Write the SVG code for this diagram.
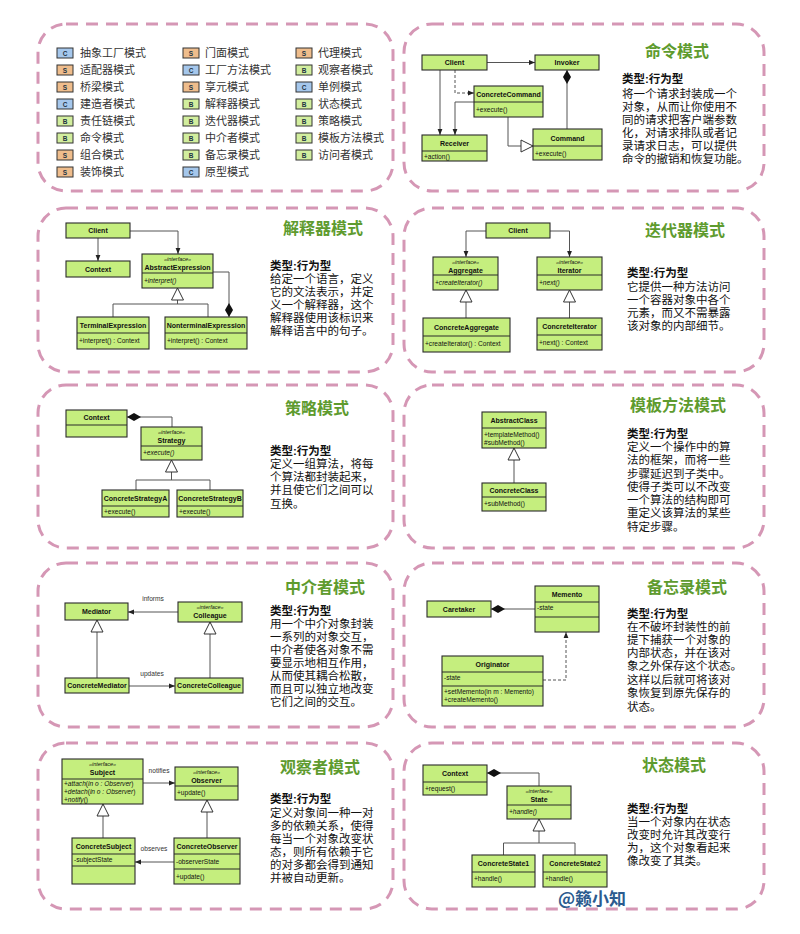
<svg xmlns="http://www.w3.org/2000/svg" width="800" height="934" viewBox="0 0 800 934">
<style>
.panel{fill:#fff;stroke:#d597b5;stroke-width:3;stroke-dasharray:12 8;}
.box{fill:#c5ee7e;stroke:#2a2a2a;stroke-width:1.1;}
.sep{stroke:#2a2a2a;stroke-width:1;fill:none;}
.ln{stroke:#555;stroke-width:1;fill:none;}
.dash{stroke:#555;stroke-width:1;fill:none;stroke-dasharray:3 2;}
.cn{font-family:'Liberation Sans',Arial,sans-serif;font-size:7px;font-weight:bold;text-anchor:middle;fill:#111;}
.st{font-family:'Liberation Sans',Arial,sans-serif;font-size:5.5px;font-style:italic;text-anchor:middle;fill:#111;}
.mt{font-family:'Liberation Sans',Arial,sans-serif;font-size:6.6px;fill:#111;}
.it{font-style:italic;}
.lb{font-family:'Liberation Sans',Arial,sans-serif;font-size:6.6px;fill:#333;text-anchor:middle;}
.title{font-family:'Noto Sans CJK SC','Noto Sans',sans-serif;font-size:16px;font-weight:bold;fill:#5e9b2e;}
.body{font-family:'Liberation Sans','Noto Sans CJK SC',sans-serif;font-size:11.5px;fill:#111;}
.hd{font-weight:bold;}
.lg{font-family:'Noto Sans CJK SC','Noto Sans',sans-serif;font-size:11px;fill:#333;}
.ic{stroke:#333;stroke-width:1;}
.icC{fill:#a5c7ec;}
.icS{fill:#efbd8c;}
.icB{fill:#d2ee9e;}
.il{font-family:'Liberation Sans',Arial,sans-serif;font-size:6.5px;font-weight:bold;text-anchor:middle;fill:#234;}
</style>
<defs>
<marker id="arr" viewBox="0 0 10 10" refX="10" refY="5" markerWidth="6" markerHeight="6" markerUnits="userSpaceOnUse" orient="auto"><path d="M0,1 L10,5 L0,9 z" fill="#222"/></marker>
<marker id="tri" viewBox="-1 -1 14 14" refX="12" refY="6" markerWidth="14" markerHeight="14" markerUnits="userSpaceOnUse" orient="auto"><path d="M0,0 L12,6 L0,12 z" fill="#fff" stroke="#333" stroke-width="1"/></marker>
<marker id="dia" viewBox="0 0 14 8" refX="0" refY="4" markerWidth="14" markerHeight="8" markerUnits="userSpaceOnUse" orient="auto"><path d="M0,4 L7,0 L14,4 L7,8 z" fill="#111"/></marker>
</defs>
<rect width="800" height="934" fill="#fff"/>

<!-- panel frames -->
<g id="frames">
<rect class="panel" x="38" y="24" width="355" height="167" rx="28"/>
<rect class="panel" x="404" y="24" width="360" height="167" rx="28"/>
<rect class="panel" x="38" y="208" width="355" height="164" rx="28"/>
<rect class="panel" x="404" y="208" width="360" height="164" rx="28"/>
<rect class="panel" x="38" y="385" width="355" height="163" rx="28"/>
<rect class="panel" x="404" y="385" width="360" height="163" rx="28"/>
<rect class="panel" x="38" y="563" width="355" height="164" rx="28"/>
<rect class="panel" x="404" y="563" width="360" height="164" rx="28"/>
<rect class="panel" x="38" y="743" width="355" height="166" rx="28"/>
<rect class="panel" x="404" y="743" width="360" height="166" rx="28"/>
</g>

<!-- legend -->
<g id="legend">
<g id="lg-c1">
<rect class="ic icC" x="57" y="48" width="16" height="10"/><text class="il" x="65" y="55.5">C</text><text class="lg" x="80" y="57">抽象工厂模式</text>
<rect class="ic icS" x="57" y="65" width="16" height="10"/><text class="il" x="65" y="72.5">S</text><text class="lg" x="80" y="74">适配器模式</text>
<rect class="ic icS" x="57" y="82" width="16" height="10"/><text class="il" x="65" y="89.5">S</text><text class="lg" x="80" y="91">桥梁模式</text>
<rect class="ic icC" x="57" y="99" width="16" height="10"/><text class="il" x="65" y="106.5">C</text><text class="lg" x="80" y="108">建造者模式</text>
<rect class="ic icB" x="57" y="116" width="16" height="10"/><text class="il" x="65" y="123.5">B</text><text class="lg" x="80" y="125">责任链模式</text>
<rect class="ic icB" x="57" y="133" width="16" height="10"/><text class="il" x="65" y="140.5">B</text><text class="lg" x="80" y="142">命令模式</text>
<rect class="ic icS" x="57" y="150" width="16" height="10"/><text class="il" x="65" y="157.5">S</text><text class="lg" x="80" y="159">组合模式</text>
<rect class="ic icS" x="57" y="167" width="16" height="10"/><text class="il" x="65" y="174.5">S</text><text class="lg" x="80" y="176">装饰模式</text>
</g>
<g id="lg-c2">
<rect class="ic icS" x="183" y="48" width="16" height="10"/><text class="il" x="191" y="55.5">S</text><text class="lg" x="205" y="57">门面模式</text>
<rect class="ic icC" x="183" y="65" width="16" height="10"/><text class="il" x="191" y="72.5">C</text><text class="lg" x="205" y="74">工厂方法模式</text>
<rect class="ic icS" x="183" y="82" width="16" height="10"/><text class="il" x="191" y="89.5">S</text><text class="lg" x="205" y="91">享元模式</text>
<rect class="ic icB" x="183" y="99" width="16" height="10"/><text class="il" x="191" y="106.5">B</text><text class="lg" x="205" y="108">解释器模式</text>
<rect class="ic icB" x="183" y="116" width="16" height="10"/><text class="il" x="191" y="123.5">B</text><text class="lg" x="205" y="125">迭代器模式</text>
<rect class="ic icB" x="183" y="133" width="16" height="10"/><text class="il" x="191" y="140.5">B</text><text class="lg" x="205" y="142">中介者模式</text>
<rect class="ic icB" x="183" y="150" width="16" height="10"/><text class="il" x="191" y="157.5">B</text><text class="lg" x="205" y="159">备忘录模式</text>
<rect class="ic icC" x="183" y="167" width="16" height="10"/><text class="il" x="191" y="174.5">C</text><text class="lg" x="205" y="176">原型模式</text>
</g>
<g id="lg-c3">
<rect class="ic icS" x="296" y="48" width="16" height="10"/><text class="il" x="304" y="55.5">S</text><text class="lg" x="318" y="57">代理模式</text>
<rect class="ic icB" x="296" y="65" width="16" height="10"/><text class="il" x="304" y="72.5">B</text><text class="lg" x="318" y="74">观察者模式</text>
<rect class="ic icC" x="296" y="82" width="16" height="10"/><text class="il" x="304" y="89.5">C</text><text class="lg" x="318" y="91">单例模式</text>
<rect class="ic icB" x="296" y="99" width="16" height="10"/><text class="il" x="304" y="106.5">B</text><text class="lg" x="318" y="108">状态模式</text>
<rect class="ic icB" x="296" y="116" width="16" height="10"/><text class="il" x="304" y="123.5">B</text><text class="lg" x="318" y="125">策略模式</text>
<rect class="ic icB" x="296" y="133" width="16" height="10"/><text class="il" x="304" y="140.5">B</text><text class="lg" x="318" y="142">模板方法模式</text>
<rect class="ic icB" x="296" y="150" width="16" height="10"/><text class="il" x="304" y="157.5">B</text><text class="lg" x="318" y="159">访问者模式</text>
</g>
</g>

<!-- panel texts -->
<g id="texts">
<text class="title" x="645" y="57">命令模式</text>
<text class="body" x="622"><tspan class="hd" x="622" y="83">类型:行为型</tspan><tspan x="622" y="98">将一个请求封装成一个</tspan><tspan x="622" y="111">对象，从而让你使用不</tspan><tspan x="622" y="124">同的请求把客户端参数</tspan><tspan x="622" y="137">化，对请求排队或者记</tspan><tspan x="622" y="150">录请求日志，可以提供</tspan><tspan x="622" y="163">命令的撤销和恢复功能。</tspan></text>

<text class="title" x="283" y="234">解释器模式</text>
<text class="body" x="270"><tspan class="hd" x="270" y="270">类型:行为型</tspan><tspan x="270" y="283">给定一个语言，定义</tspan><tspan x="270" y="296">它的文法表示，并定</tspan><tspan x="270" y="309">义一个解释器，这个</tspan><tspan x="270" y="322">解释器使用该标识来</tspan><tspan x="270" y="335">解释语言中的句子。</tspan></text>

<text class="title" x="645" y="236">迭代器模式</text>
<text class="body" x="627"><tspan class="hd" x="627" y="277">类型:行为型</tspan><tspan x="627" y="291">它提供一种方法访问</tspan><tspan x="627" y="304">一个容器对象中各个</tspan><tspan x="627" y="317">元素，而又不需暴露</tspan><tspan x="627" y="330">该对象的内部细节。</tspan></text>

<text class="title" x="285" y="414">策略模式</text>
<text class="body" x="270"><tspan class="hd" x="270" y="455">类型:行为型</tspan><tspan x="270" y="468">定义一组算法，将每</tspan><tspan x="270" y="481">个算法都封装起来，</tspan><tspan x="270" y="494">并且使它们之间可以</tspan><tspan x="270" y="508">互换。</tspan></text>

<text class="title" x="630" y="411">模板方法模式</text>
<text class="body" x="627"><tspan class="hd" x="627" y="438">类型:行为型</tspan><tspan x="627" y="451">定义一个操作中的算</tspan><tspan x="627" y="464">法的框架，而将一些</tspan><tspan x="627" y="478">步骤延迟到子类中。</tspan><tspan x="627" y="491">使得子类可以不改变</tspan><tspan x="627" y="504">一个算法的结构即可</tspan><tspan x="627" y="517">重定义该算法的某些</tspan><tspan x="627" y="531">特定步骤。</tspan></text>

<text class="title" x="285" y="593">中介者模式</text>
<text class="body" x="270"><tspan class="hd" x="270" y="615">类型:行为型</tspan><tspan x="270" y="628">用一个中介对象封装</tspan><tspan x="270" y="641">一系列的对象交互，</tspan><tspan x="270" y="654">中介者使各对象不需</tspan><tspan x="270" y="667">要显示地相互作用，</tspan><tspan x="270" y="680">从而使其耦合松散，</tspan><tspan x="270" y="693">而且可以独立地改变</tspan><tspan x="270" y="706">它们之间的交互。</tspan></text>

<text class="title" x="647" y="593">备忘录模式</text>
<text class="body" x="627"><tspan class="hd" x="627" y="618">类型:行为型</tspan><tspan x="627" y="631">在不破坏封装性的前</tspan><tspan x="627" y="644">提下捕获一个对象的</tspan><tspan x="627" y="657">内部状态，并在该对</tspan><tspan x="627" y="670">象之外保存这个状态。</tspan><tspan x="627" y="684">这样以后就可将该对</tspan><tspan x="627" y="697">象恢复到原先保存的</tspan><tspan x="627" y="711">状态。</tspan></text>

<text class="title" x="280" y="773">观察者模式</text>
<text class="body" x="270"><tspan class="hd" x="270" y="803">类型:行为型</tspan><tspan x="270" y="817">定义对象间一种一对</tspan><tspan x="270" y="830">多的依赖关系，使得</tspan><tspan x="270" y="843">每当一个对象改变状</tspan><tspan x="270" y="856">态，则所有依赖于它</tspan><tspan x="270" y="869">的对多都会得到通知</tspan><tspan x="270" y="882">并被自动更新。</tspan></text>

<text class="title" x="642" y="771">状态模式</text>
<text class="body" x="627"><tspan class="hd" x="627" y="813">类型:行为型</tspan><tspan x="627" y="826">当一个对象内在状态</tspan><tspan x="627" y="839">改变时允许其改变行</tspan><tspan x="627" y="852">为，这个对象看起来</tspan><tspan x="627" y="865">像改变了其类。</tspan></text>

<text x="592" y="905" font-family="'Noto Sans CJK SC','Noto Sans',sans-serif" font-size="17" font-weight="bold" fill="#2c5b8f" text-anchor="middle">@籁小知</text>
</g>

<!-- connectors -->
<g id="connectors">
<!-- command -->
<path class="ln" d="M487,62.5 H535" marker-end="url(#arr)"/>
<path class="ln" d="M440,70 V135" marker-end="url(#arr)"/>
<path class="dash" d="M455,70 V93 H474" marker-end="url(#arr)"/>
<path class="ln" d="M474,102 H455 V135" marker-end="url(#arr)"/>
<path class="ln" d="M508,117 V146 H533" marker-end="url(#tri)"/>
<path class="ln" d="M567,70 V129" marker-start="url(#dia)"/>
<!-- interpreter -->
<path class="ln" d="M98,238 V261" marker-end="url(#arr)"/>
<path class="ln" d="M130,231 H178 V254" marker-end="url(#arr)"/>
<path class="ln" d="M113,317 V304 H208 V317"/>
<path class="ln" d="M177.5,304 V288" marker-end="url(#tri)"/>
<path class="ln" d="M229,317 V272 H213" marker-start="url(#dia)"/>
<!-- iterator -->
<path class="ln" d="M486,231 H466 V257" marker-end="url(#arr)"/>
<path class="ln" d="M550,231 H569.5 V257" marker-end="url(#arr)"/>
<path class="ln" d="M466,318 V290" marker-end="url(#tri)"/>
<path class="ln" d="M569.5,318 V290" marker-end="url(#tri)"/>
<!-- strategy -->
<path class="ln" d="M127,417 H172 V427" marker-start="url(#dia)"/>
<path class="ln" d="M136,490 V480 H210 V490"/>
<path class="ln" d="M171.5,480 V460" marker-end="url(#tri)"/>
<!-- template -->
<path class="ln" d="M514,483 V448" marker-end="url(#tri)"/>
<!-- mediator -->
<path class="ln" d="M178,612 H128" marker-end="url(#arr)"/>
<text class="lb" x="153" y="601">informs</text>
<path class="ln" d="M97,678 V620" marker-end="url(#tri)"/>
<path class="ln" d="M210,678 V622" marker-end="url(#tri)"/>
<path class="ln" d="M129,686 H175" marker-end="url(#arr)"/>
<text class="lb" x="152" y="676">updates</text>
<!-- memento -->
<path class="ln" d="M491,609 H535" marker-start="url(#dia)"/>
<path class="dash" d="M543,680 H566 V632" marker-end="url(#arr)"/>
<!-- observer -->
<path class="ln" d="M143,783 H175" marker-end="url(#arr)"/>
<text class="lb" x="159" y="773">notifies</text>
<path class="ln" d="M103,838 V804" marker-end="url(#tri)"/>
<path class="ln" d="M207,838 V800" marker-end="url(#tri)"/>
<path class="ln" d="M174,862 H135" marker-end="url(#arr)"/>
<text class="lb" x="154" y="851">observes</text>
<!-- state -->
<path class="ln" d="M487,773 H539 V786" marker-start="url(#dia)"/>
<path class="ln" d="M503.5,855 V843 H575 V855"/>
<path class="ln" d="M539,843 V819" marker-end="url(#tri)"/>
</g>

<!-- command nodes -->
<g id="cmd-client"><rect class="box" x="422" y="55" width="65" height="15"/><text class="cn" x="454.5" y="65">Client</text></g>
<g id="cmd-invoker"><rect class="box" x="535" y="55" width="64" height="15"/><text class="cn" x="567" y="65">Invoker</text></g>
<g id="cmd-concrete"><rect class="box" x="474" y="86" width="69" height="31"/><line class="sep" x1="474" y1="102" x2="543" y2="102"/><text class="cn" x="508.5" y="97">ConcreteCommand</text><text class="mt" x="476" y="112">+execute()</text></g>
<g id="cmd-receiver"><rect class="box" x="422" y="135" width="65" height="26"/><line class="sep" x1="422" y1="151" x2="487" y2="151"/><text class="cn" x="454.5" y="146">Receiver</text><text class="mt" x="424" y="158.5">+action()</text></g>
<g id="cmd-command"><rect class="box" x="533" y="129" width="69" height="31"/><line class="sep" x1="533" y1="146" x2="602" y2="146"/><text class="cn" x="567.5" y="140.5">Command</text><text class="mt" x="535" y="155.5">+execute()</text></g>

<!-- interpreter nodes -->
<g id="int-client"><rect class="box" x="66" y="223" width="64" height="15"/><text class="cn" x="98" y="233">Client</text></g>
<g id="int-context"><rect class="box" x="66" y="261" width="64" height="16"/><text class="cn" x="98" y="271.5">Context</text></g>
<g id="int-abstract"><rect class="box" x="142" y="254" width="71" height="34"/><line class="sep" x1="142" y1="273" x2="213" y2="273"/><text class="st" x="177.5" y="261">«interface»</text><text class="cn" x="177.5" y="270">AbstractExpression</text><text class="mt it" x="144" y="283">+interpret()</text></g>
<g id="int-terminal"><rect class="box" x="77" y="317" width="72" height="32"/><line class="sep" x1="77" y1="333" x2="149" y2="333"/><text class="cn" x="113" y="328">TerminalExpression</text><text class="mt" x="79" y="343">+interpret() : Context</text></g>
<g id="int-nonterminal"><rect class="box" x="165" y="317" width="82" height="32"/><line class="sep" x1="165" y1="333" x2="247" y2="333"/><text class="cn" x="206" y="328">NonterminalExpression</text><text class="mt" x="167" y="343">+interpret() : Context</text></g>

<!-- iterator nodes -->
<g id="it-client"><rect class="box" x="486" y="223" width="64" height="15"/><text class="cn" x="518" y="233">Client</text></g>
<g id="it-aggregate"><rect class="box" x="433" y="257" width="65" height="33"/><line class="sep" x1="433" y1="275" x2="498" y2="275"/><text class="st" x="465.5" y="264">«interface»</text><text class="cn" x="465.5" y="272.5">Aggregate</text><text class="mt it" x="435" y="285">+createIterator()</text></g>
<g id="it-iterator"><rect class="box" x="537" y="257" width="65" height="33"/><line class="sep" x1="537" y1="275" x2="602" y2="275"/><text class="st" x="569.5" y="264">«interface»</text><text class="cn" x="569.5" y="272.5">Iterator</text><text class="mt it" x="539" y="285">+next()</text></g>
<g id="it-concagg"><rect class="box" x="423" y="318" width="87" height="34"/><line class="sep" x1="423" y1="336" x2="510" y2="336"/><text class="cn" x="466.5" y="330">ConcreteAggregate</text><text class="mt" x="425" y="346">+createIterator() : Context</text></g>
<g id="it-conciter"><rect class="box" x="537" y="318" width="65" height="32"/><line class="sep" x1="537" y1="335" x2="602" y2="335"/><text class="cn" x="569.5" y="329">ConcreteIterator</text><text class="mt" x="539" y="344.5">+next() : Context</text></g>

<!-- strategy nodes -->
<g id="st-context"><rect class="box" x="66" y="410" width="61" height="27"/><line class="sep" x1="66" y1="425" x2="127" y2="425"/><text class="cn" x="96.5" y="420">Context</text></g>
<g id="st-strategy"><rect class="box" x="141" y="427" width="61" height="33"/><line class="sep" x1="141" y1="446" x2="202" y2="446"/><text class="st" x="171.5" y="434">«interface»</text><text class="cn" x="171.5" y="443">Strategy</text><text class="mt it" x="143" y="455">+execute()</text></g>
<g id="st-a"><rect class="box" x="102" y="490" width="67" height="27"/><line class="sep" x1="102" y1="506" x2="169" y2="506"/><text class="cn" x="135.5" y="501">ConcreteStrategyA</text><text class="mt" x="104" y="514">+execute()</text></g>
<g id="st-b"><rect class="box" x="177" y="490" width="66" height="27"/><line class="sep" x1="177" y1="506" x2="243" y2="506"/><text class="cn" x="210" y="501">ConcreteStrategyB</text><text class="mt" x="179" y="514">+execute()</text></g>

<!-- template nodes -->
<g id="tm-abstract"><rect class="box" x="482" y="412" width="64" height="36"/><line class="sep" x1="482" y1="428" x2="546" y2="428"/><text class="cn" x="514" y="423">AbstractClass</text><text class="mt" x="484" y="437">+templateMethod()</text><text class="mt" x="484" y="445">#subMethod()</text></g>
<g id="tm-concrete"><rect class="box" x="482" y="483" width="64" height="28"/><line class="sep" x1="482" y1="497" x2="546" y2="497"/><text class="cn" x="514" y="493">ConcreteClass</text><text class="mt" x="484" y="506">+subMethod()</text></g>

<!-- mediator nodes -->
<g id="md-mediator"><rect class="box" x="65" y="603" width="63" height="17"/><text class="cn" x="96.5" y="614">Mediator</text></g>
<g id="md-colleague"><rect class="box" x="178" y="602" width="64" height="20"/><text class="st" x="210" y="609">«interface»</text><text class="cn" x="210" y="618">Colleague</text></g>
<g id="md-concmed"><rect class="box" x="65" y="678" width="64" height="15"/><text class="cn" x="97" y="688">ConcreteMediator</text></g>
<g id="md-conccol"><rect class="box" x="175" y="678" width="68" height="15"/><text class="cn" x="209" y="688">ConcreteColleague</text></g>

<!-- memento nodes -->
<g id="mm-caretaker"><rect class="box" x="427" y="601" width="64" height="16"/><text class="cn" x="459" y="611.5">Caretaker</text></g>
<g id="mm-memento"><rect class="box" x="535" y="586" width="64" height="46"/><line class="sep" x1="535" y1="602" x2="599" y2="602"/><line class="sep" x1="535" y1="617" x2="599" y2="617"/><text class="cn" x="567" y="597">Memento</text><text class="mt" x="537" y="610">-state</text></g>
<g id="mm-originator"><rect class="box" x="442" y="656" width="101" height="50"/><line class="sep" x1="442" y1="672" x2="543" y2="672"/><line class="sep" x1="442" y1="686" x2="543" y2="686"/><text class="cn" x="492.5" y="667">Originator</text><text class="mt" x="444" y="680">-state</text><text class="mt" x="444" y="694">+setMemento(in m : Memento)</text><text class="mt" x="444" y="702">+createMemento()</text></g>

<!-- observer nodes -->
<g id="ob-subject"><rect class="box" x="62" y="759" width="81" height="45"/><line class="sep" x1="62" y1="779" x2="143" y2="779"/><text class="st" x="102.5" y="766">«interface»</text><text class="cn" x="102.5" y="775">Subject</text><text class="mt" x="64" y="786">+<tspan class="it">attach</tspan>(<tspan class="it">in o : Observer</tspan>)</text><text class="mt" x="64" y="794">+<tspan class="it">detach</tspan>(<tspan class="it">in o : Observer</tspan>)</text><text class="mt" x="64" y="802">+<tspan class="it">notify</tspan>()</text></g>
<g id="ob-observer"><rect class="box" x="175" y="767" width="63" height="33"/><line class="sep" x1="175" y1="786" x2="238" y2="786"/><text class="st" x="206.5" y="774">«interface»</text><text class="cn" x="206.5" y="783">Observer</text><text class="mt" x="177" y="795">+update()</text></g>
<g id="ob-concsub"><rect class="box" x="72" y="838" width="63" height="46"/><line class="sep" x1="72" y1="854" x2="135" y2="854"/><line class="sep" x1="72" y1="866" x2="135" y2="866"/><text class="cn" x="103.5" y="849">ConcreteSubject</text><text class="mt" x="74" y="862">-subjectState</text></g>
<g id="ob-concobs"><rect class="box" x="174" y="838" width="66" height="46"/><line class="sep" x1="174" y1="854" x2="240" y2="854"/><line class="sep" x1="174" y1="869" x2="240" y2="869"/><text class="cn" x="207" y="849">ConcreteObserver</text><text class="mt" x="176" y="864">-observerState</text><text class="mt" x="176" y="879">+update()</text></g>

<!-- state nodes -->
<g id="sa-context"><rect class="box" x="423" y="765" width="64" height="30"/><line class="sep" x1="423" y1="782" x2="487" y2="782"/><text class="cn" x="455" y="776">Context</text><text class="mt" x="425" y="791">+request()</text></g>
<g id="sa-state"><rect class="box" x="507" y="786" width="64" height="33"/><line class="sep" x1="507" y1="805" x2="571" y2="805"/><text class="st" x="539" y="793">«interface»</text><text class="cn" x="539" y="802">State</text><text class="mt it" x="509" y="814">+handle()</text></g>
<g id="sa-s1"><rect class="box" x="472" y="855" width="63" height="32"/><line class="sep" x1="472" y1="872" x2="535" y2="872"/><text class="cn" x="503.5" y="866">ConcreteState1</text><text class="mt" x="474" y="881">+handle()</text></g>
<g id="sa-s2"><rect class="box" x="543" y="855" width="64" height="32"/><line class="sep" x1="543" y1="872" x2="607" y2="872"/><text class="cn" x="575" y="866">ConcreteState2</text><text class="mt" x="545" y="881">+handle()</text></g>
</svg>
